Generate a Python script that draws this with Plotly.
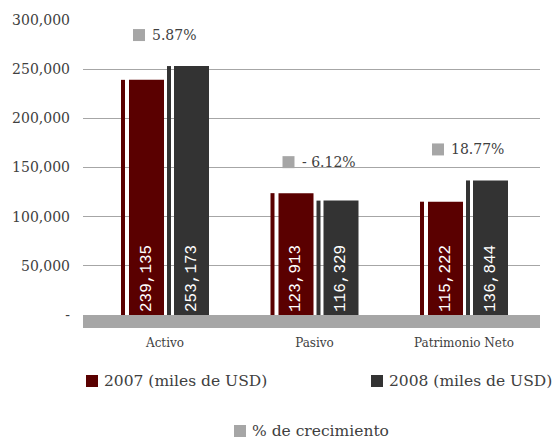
import plotly.graph_objects as go

# ---------------- data ----------------
categories = ["Activo", "Pasivo", "Patrimonio Neto"]
values_2007 = [239135, 123913, 115222]
values_2008 = [253173, 116329, 136844]
growth_pct = [5.87, -6.12, 18.77]
series_names = ["2007 (miles de USD)", "2008 (miles de USD)", "% de crecimiento"]
y_tickvals = [0, 50000, 100000, 150000, 200000, 250000, 300000]
y_ticktext = ["-", "50,000", "100,000", "150,000", "200,000", "250,000", "300,000"]

# ---------------- style ----------------
C2007 = "#5a0000"
C2008 = "#333333"
CGRAY = "#a6a6a6"
TXT = "#404040"
SERIF = "DejaVu Serif"

W, H = 556, 439
L, R, T, B = 83, 16, 20, 111
PX = 149.5  # pixels per category
FIRST_CENTER = 165  # px of first group centre
PLOT_RIGHT = W - R


def u(px):
    return px / PX


def fmt_val(v):
    return f"{v:,}"


def fmt_pct(g):
    return (f"- {abs(g):.2f}%" if g < 0 else f"{g:.2f}%")


fig = go.Figure()

for vals, color, strip_off, main_off in [
    (values_2007, C2007, -44, -36),
    (values_2008, C2008, 2, 9),
]:
    # thin side face of the pseudo-3D bar
    fig.add_bar(x=categories, y=vals, offset=u(strip_off), width=u(4),
                marker=dict(color=color, line_width=0),
                hoverinfo="skip", showlegend=False)
    # main face with value label
    fig.add_bar(x=categories, y=vals, offset=u(main_off), width=u(35),
                marker=dict(color=color, line_width=0),
                text=[fmt_val(v) for v in vals], textposition="inside",
                textangle=-90, insidetextanchor="start",
                textfont=dict(family="Liberation Mono", size=16, color="white"),
                cliponaxis=False, showlegend=False)

y_min = -13220
shapes = [
    # gray floor
    dict(type="rect", xref="paper", x0=0, x1=1, yref="y", y0=y_min, y1=0,
         fillcolor=CGRAY, line=dict(width=0), layer="above"),
]
annotations = []

# growth labels above each group
for i, g in enumerate(growth_pct):
    top = max(values_2007[i], values_2008[i])
    shapes.append(dict(type="rect", xref="x", xsizemode="pixel", xanchor=i,
                       x0=-32, x1=-20, yref="y", ysizemode="pixel", yanchor=top,
                       y0=25, y1=37, fillcolor=CGRAY, line=dict(width=0)))
    annotations.append(dict(x=i, y=top, xref="x", yref="y", xanchor="left",
                            yanchor="middle", xshift=-15, yshift=31,
                            text=fmt_pct(g), showarrow=False,
                            font=dict(family=SERIF, size=14, color=TXT)))

# legend drawn manually (square + text)
legend_items = [
    (series_names[0], C2007, 86, 381, 104),
    (series_names[1], C2008, 371, 381, 389),
    (series_names[2], CGRAY, 234, 431, 252),
]
plot_bottom = H - B
for name, color, sx, cy, tx in legend_items:
    shapes.append(dict(type="rect", xref="paper", xsizemode="pixel", xanchor=0,
                       x0=sx - L, x1=sx - L + 12, yref="paper", ysizemode="pixel",
                       yanchor=0, y0=-(cy + 6 - plot_bottom), y1=-(cy - 6 - plot_bottom),
                       fillcolor=color, line=dict(width=0)))
    annotations.append(dict(x=0, y=0, xref="paper", yref="paper", xanchor="left",
                            yanchor="middle", xshift=tx - L - 2,
                            yshift=-(cy - plot_bottom), text=name, showarrow=False,
                            font=dict(family=SERIF, size=15.5, color=TXT)))

x_lo = -(FIRST_CENTER - L) / PX
x_hi = (len(categories) - 1) + (PLOT_RIGHT - (FIRST_CENTER + (len(categories) - 1) * PX)) / PX

fig.update_layout(
    width=W, height=H,
    margin=dict(l=L, r=R, t=T, b=B),
    paper_bgcolor="white", plot_bgcolor="white",
    barmode="overlay",
    showlegend=False,
    shapes=shapes,
    annotations=annotations,
    xaxis=dict(type="category", range=[x_lo, x_hi], showgrid=False,
               zeroline=False, showline=False, ticks="",
               tickfont=dict(family=SERIF, size=12, color=TXT),
               ticklabelstandoff=6),
    yaxis=dict(range=[y_min, 300000], tickvals=y_tickvals, ticktext=y_ticktext,
               showgrid=True, gridcolor=CGRAY, gridwidth=1, zeroline=False,
               showline=False, ticks="",
               tickfont=dict(family=SERIF, size=14, color=TXT),
               ticklabelstandoff=12),
)

fig.write_html("out.html", config={"displayModeBar": False})

# remove the default page margin so the figure sits at the window's origin
with open("out.html", encoding="utf-8") as f:
    html = f.read()
html = html.replace("<head>", "<head><style>html,body{margin:0;padding:0;overflow:hidden;}</style>", 1)
with open("out.html", "w", encoding="utf-8") as f:
    f.write(html)
